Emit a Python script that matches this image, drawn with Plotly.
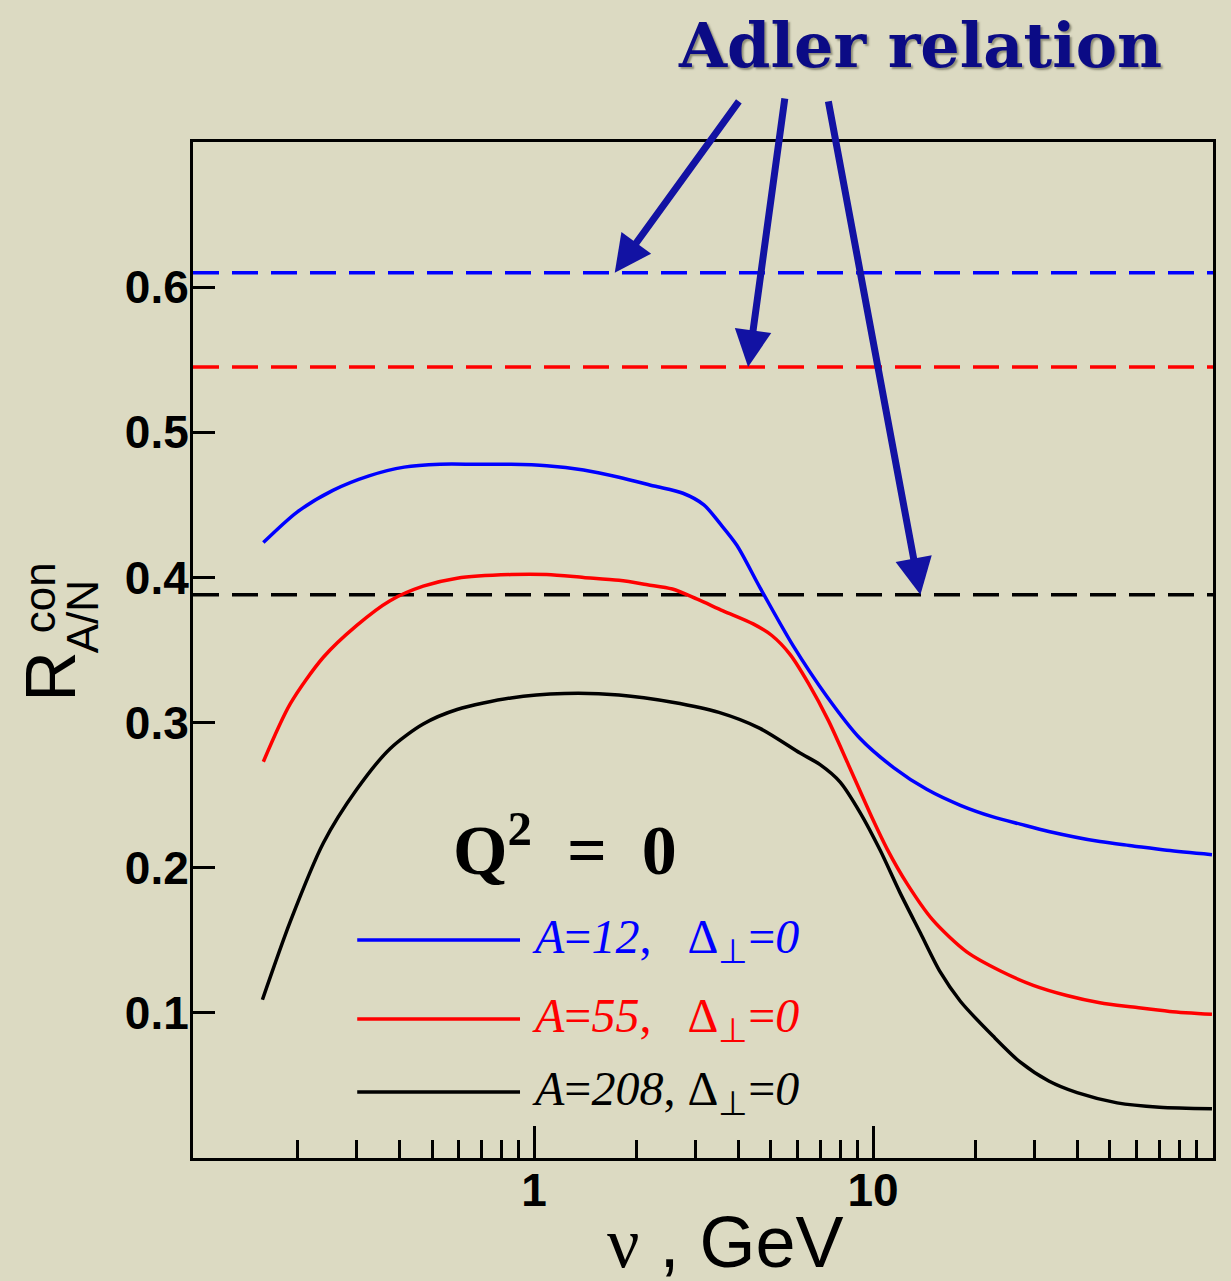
import numpy as np
import plotly.graph_objects as go

# ---------------- data ----------------
nu_a12 = [0.159, 0.200, 0.255, 0.326, 0.414, 0.528, 0.675, 0.855, 1.09, 1.40, 1.78, 2.26,
          2.75, 3.17, 3.54, 3.97, 4.64, 5.81, 7.31, 9.16, 11.5, 14.4, 18.1, 22.6, 27.2,
          33.0, 46.7, 58.5, 73.6, 100.0]
r_a12 = [0.424, 0.445, 0.460, 0.470, 0.476, 0.478, 0.478, 0.478, 0.477, 0.474, 0.469, 0.463,
         0.458, 0.450, 0.437, 0.422, 0.393, 0.353, 0.318, 0.289, 0.269, 0.254, 0.243, 0.235,
         0.230, 0.225, 0.218, 0.215, 0.212, 0.209]

nu_a55 = [0.159, 0.191, 0.239, 0.300, 0.376, 0.471, 0.593, 0.855, 1.09, 1.40, 1.78, 2.16,
          2.56, 3.03, 3.61, 4.43, 5.03, 5.69, 6.45, 7.40, 8.46, 10.0, 11.0, 12.6, 15.0, 18.9,
          23.7, 29.7, 37.3, 46.7, 58.5, 75.0, 100.0]
r_a55 = [0.273, 0.313, 0.345, 0.367, 0.384, 0.394, 0.3995, 0.402, 0.402, 0.400, 0.398, 0.395,
         0.392, 0.385, 0.377, 0.368, 0.360, 0.347, 0.327, 0.301, 0.271, 0.233, 0.213, 0.189,
         0.164, 0.142, 0.129, 0.119, 0.112, 0.107, 0.104, 0.101, 0.099]

nu_a208 = [0.158, 0.191, 0.239, 0.300, 0.376, 0.471, 0.593, 0.855, 1.23, 1.78, 2.56,
           3.51, 4.64, 6.09, 6.98, 8.0, 9.16, 10.5, 12.0, 13.8, 15.8, 18.1, 22.6, 27.2, 33.0,
           40.0, 52.5, 70.0, 100.0]
r_a208 = [0.109, 0.163, 0.217, 0.254, 0.282, 0.299, 0.309, 0.317, 0.320, 0.319, 0.314,
          0.307, 0.296, 0.279, 0.271, 0.259, 0.238, 0.212, 0.183, 0.155, 0.128, 0.108, 0.084,
          0.066, 0.053, 0.045, 0.038, 0.035, 0.034]

# Adler relation limits
adler_names = ["A=12", "A=55", "A=208"]
adler_values = [0.610, 0.545, 0.388]

series_names = ["A=12", "A=55", "A=208"]
series_colors = ["#0000ff", "#ff0000", "#000000"]

x_tick_vals = [1, 10]
x_tick_text = ["1", "10"]
x_minor_vals = [0.2, 0.3, 0.4, 0.5, 0.6, 0.7, 0.8, 0.9,
                2, 3, 4, 5, 6, 7, 8, 9,
                20, 30, 40, 50, 60, 70, 80, 90]
y_tick_vals = [0.1, 0.2, 0.3, 0.4, 0.5, 0.6]
y_tick_text = ["0.1", "0.2", "0.3", "0.4", "0.5", "0.6"]

x_range = [0.0986, 100.7]
y_range = [0.0, 0.7]

# arrow tips / tails (nu, R) for "Adler relation" arrows
arrow_tip_nu = [1.73, 4.28, 13.8]
arrow_tail_nu = [4.05, 5.50, 7.37]
arrow_tail_r = [0.729, 0.731, 0.729]

NB = "\u00a0"
legend_labels = [
    "<i>A</i>=<i>12</i>," + NB * 3 + "Δ<sub>⊥</sub>=<i>0</i>",
    "<i>A</i>=<i>55</i>," + NB * 3 + "Δ<sub>⊥</sub>=<i>0</i>",
    "<i>A</i>=<i>208</i>," + NB + "Δ<sub>⊥</sub>=<i>0</i>",
]

BG = "#dcdac2"
NAVY = "#0b0b85"
ARROW = "#1212a3"

fig = go.Figure()

# dashed Adler lines
for val, col in zip(adler_values, series_colors):
    fig.add_trace(go.Scatter(x=x_range, y=[val, val], mode="lines",
                             line=dict(color=col, width=3.5, dash="26px,13px"),
                             showlegend=False, hoverinfo="skip"))

for xs, ys, col, name in zip([nu_a12, nu_a55, nu_a208], [r_a12, r_a55, r_a208],
                             series_colors, series_names):
    fig.add_trace(go.Scatter(x=xs, y=ys, mode="lines", name=name,
                             line=dict(color=col, width=3.5, shape="spline", smoothing=0.8),
                             showlegend=False))

annotations = []

# Adler relation label
annotations.append(dict(x=0.713, y=1.095, xref="paper", yref="paper",
                        text="<b>Adler relation</b>", showarrow=False,
                        xanchor="center", yanchor="middle",
                        font=dict(family="DejaVu Serif", size=62, color=NAVY,
                                  shadow="2px 2px 2px rgba(90,90,70,0.6)")))

# arrows
for tip, tail, tail_r, val in zip(arrow_tip_nu, arrow_tail_nu, arrow_tail_r, adler_values):
    annotations.append(dict(x=np.log10(tip), y=val, xref="x", yref="y",
                            ax=np.log10(tail), ay=tail_r, axref="x", ayref="y",
                            text="", showarrow=True, arrowhead=2, arrowsize=1.05,
                            arrowwidth=7, arrowcolor=ARROW, standoff=0))

# Q^2 = 0
annotations.append(dict(x=0.365, y=0.308, xref="paper", yref="paper",
                        text="<b>Q<sup>2</sup>" + NB * 2 + "=" + NB * 2 + "0</b>", showarrow=False,
                        xanchor="center", yanchor="middle",
                        font=dict(family="Liberation Serif", size=70, color="black")))

# custom legend
leg_y = [0.2146, 0.1368, 0.065]
shapes = []
for yy, col, lab in zip(leg_y, series_colors, legend_labels):
    shapes.append(dict(type="line", xref="paper", yref="paper", x0=0.161, x1=0.3206,
                       y0=yy, y1=yy, line=dict(color=col, width=3.5)))
    annotations.append(dict(x=0.330, y=yy, xref="paper", yref="paper", text=lab,
                            showarrow=False, xanchor="left", yanchor="middle",
                            font=dict(family="Liberation Serif", size=48, color=col)))

# y-axis title built from pieces (stacked super/subscript)
annotations.append(dict(x=-0.139, y=0.474, xref="paper", yref="paper", text="R",
                        textangle=-90, showarrow=False, xanchor="center", yanchor="middle",
                        font=dict(family="Liberation Sans", size=70, color="black")))
annotations.append(dict(x=-0.151, y=0.552, xref="paper", yref="paper", text="con",
                        textangle=-90, showarrow=False, xanchor="center", yanchor="middle",
                        font=dict(family="Liberation Sans", size=44, color="black")))
annotations.append(dict(x=-0.108, y=0.533, xref="paper", yref="paper", text="A/N",
                        textangle=-90, showarrow=False, xanchor="center", yanchor="middle",
                        font=dict(family="Liberation Sans", size=44, color="black")))

# x-axis title
annotations.append(dict(x=0.5216, y=-0.0828, xref="paper", yref="paper",
                        text="<span style=\"font-family:'Liberation Serif'\">ν</span> , GeV",
                        showarrow=False, xanchor="center", yanchor="middle",
                        font=dict(family="Liberation Sans", size=72, color="black")))

fig.update_layout(
    width=1231, height=1281,
    margin=dict(l=193, r=18, t=142, b=123),
    paper_bgcolor=BG, plot_bgcolor=BG,
    showlegend=False,
    annotations=annotations,
    shapes=shapes,
    xaxis=dict(type="log", range=[np.log10(x_range[0]), np.log10(x_range[1])],
               showline=True, linecolor="black", linewidth=3, mirror=True,
               showgrid=False, zeroline=False,
               ticks="inside", ticklen=32, tickwidth=3, tickcolor="black",
               tickvals=x_tick_vals, ticktext=x_tick_text, ticklabelstandoff=-10,
               tickfont=dict(family="Liberation Sans", size=46, color="black", weight="bold"),
               minor=dict(tickvals=x_minor_vals, ticks="inside", ticklen=18, tickwidth=3,
                          tickcolor="black", showgrid=False)),
    yaxis=dict(range=y_range,
               showline=True, linecolor="black", linewidth=3, mirror=True,
               showgrid=False, zeroline=False,
               ticks="inside", ticklen=22, tickwidth=3, tickcolor="black",
               tickvals=y_tick_vals, ticktext=y_tick_text, ticklabelstandoff=-8,
               tickfont=dict(family="Liberation Sans", size=46, color="black", weight="bold")),
)

fig.write_html("out.html")
